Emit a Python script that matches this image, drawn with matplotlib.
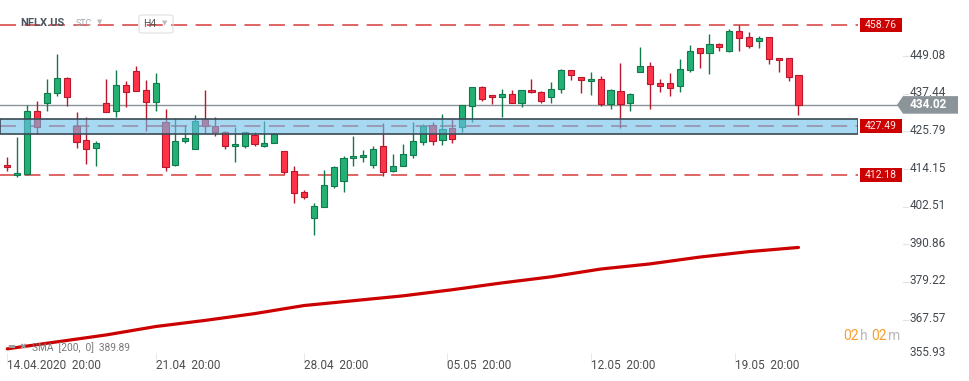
import matplotlib
matplotlib.use('Agg')
import matplotlib.pyplot as plt
import matplotlib.transforms as mtransforms
from matplotlib.patches import Rectangle, Polygon, FancyBboxPatch

plt.rcParams['font.family'] = ['Roboto', 'DejaVu Sans']

# ---------------- data ----------------
opens = [415.39, 412.31, 412.49, 432.05, 434.51, 437.60, 442.23, 427.51, 423.10, 420.63,
         434.51, 432.05, 440.07, 444.39, 438.52, 434.82, 428.65, 415.39, 422.79, 420.33,
         429.76, 427.61, 425.57, 421.25, 421.44, 424.64, 421.44, 422.18, 419.71, 413.63,
         407.06, 399.04, 402.43, 408.79, 410.45, 417.55, 417.86, 415.27, 421.25, 413.54,
         415.08, 418.47, 422.48, 427.73, 423.10, 426.80, 427.11, 433.59, 439.45, 436.98,
         436.37, 437.29, 434.51, 438.52, 437.91, 436.37, 438.83, 444.69, 442.54, 441.30,
         441.92, 434.21, 438.22, 434.51, 444.08, 445.93, 440.68, 440.68, 439.76, 444.69,
         451.79, 449.94, 453.02, 450.56, 457.03, 455.18, 453.95, 455.18, 448.40, 448.40,
         443.15]
highs = [417.86, 424.03, 433.99, 435.13, 441.92, 449.72, 442.63, 431.83, 430.20, 422.79,
         441.92, 444.79, 441.30, 446.02, 441.70, 443.86, 432.66, 429.89, 427.73, 430.81,
         438.62, 430.20, 425.97, 427.20, 425.75, 425.57, 428.96, 425.35, 419.71, 415.17,
         407.68, 403.76, 413.94, 415.17, 418.26, 424.43, 420.11, 421.34, 428.35, 418.88,
         421.96, 428.75, 428.13, 428.65, 431.21, 429.58, 433.90, 439.45, 439.76, 436.98,
         438.83, 438.52, 438.52, 441.92, 438.22, 440.99, 445.00, 444.69, 442.54, 444.08,
         442.84, 438.83, 446.85, 437.60, 452.10, 447.16, 441.92, 443.77, 448.09, 452.71,
         451.79, 456.11, 453.33, 457.65, 458.76, 456.72, 455.49, 455.18, 448.40, 448.40,
         443.15]
lows = [413.42, 411.69, 412.24, 425.05, 432.05, 436.86, 433.77, 420.82, 415.57, 414.96,
        431.74, 430.38, 433.47, 438.22, 426.06, 432.23, 413.42, 414.96, 422.36, 420.33,
        425.45, 424.52, 420.42, 416.19, 420.82, 421.44, 421.03, 422.18, 412.49, 403.54,
        404.99, 393.89, 402.43, 408.17, 406.94, 414.96, 416.19, 414.34, 411.87, 413.32,
        415.08, 417.73, 421.56, 421.74, 421.74, 422.36, 425.75, 428.84, 435.32, 434.39,
        430.38, 434.51, 433.47, 437.60, 434.51, 434.70, 437.78, 441.79, 437.78, 437.17,
        433.77, 432.85, 426.99, 432.23, 444.08, 432.85, 438.09, 436.86, 437.91, 444.26,
        445.31, 443.46, 450.86, 450.25, 450.86, 451.79, 451.79, 446.55, 444.08, 441.30,
        431.00]
closes = [414.77, 412.92, 432.05, 427.11, 437.60, 442.23, 436.37, 422.48, 420.33, 422.18,
          431.74, 440.07, 437.91, 438.22, 434.82, 440.68, 414.77, 422.79, 423.72, 428.96,
          427.42, 425.75, 421.44, 421.87, 425.57, 421.87, 422.18, 424.95, 413.23, 406.75,
          405.52, 402.74, 409.22, 414.77, 417.55, 418.17, 418.47, 420.33, 413.23, 415.08,
          418.78, 422.79, 427.42, 422.79, 426.50, 423.41, 433.90, 439.45, 435.93, 436.37,
          437.29, 434.51, 438.52, 437.91, 435.13, 438.83, 444.69, 443.15, 441.61, 441.92,
          434.21, 438.52, 434.21, 437.29, 445.93, 440.38, 439.76, 439.14, 445.00, 450.56,
          449.94, 453.02, 452.10, 457.03, 454.87, 452.41, 454.87, 448.09, 447.78, 442.54,
          434.02]

sma_idx = [0, 10, 15, 20, 25, 30, 35, 40, 45, 50, 55, 60, 65, 70, 75, 80]
sma_val = [358.5, 362.8, 365.4, 367.3, 369.4, 371.9, 373.4, 374.9, 376.8, 378.9,
           380.8, 383.2, 384.8, 386.9, 388.6, 389.89]

level_lines = [458.76, 412.18]
zone_level = 427.49
zone_low, zone_high = 425.0, 429.6
current_price = 434.02

ytick_vals = [449.08, 437.44, 425.79, 414.15, 402.51, 390.86, 379.22, 367.57, 355.93]
xtick_pos = [0, 15, 30, 44.5, 59, 73.6]
xtick_labels = ['14.04.2020  20:00', '21.04  20:00', '28.04  20:00',
                '05.05  20:00', '12.05  20:00', '19.05  20:00']

# ---------------- figure ----------------
W, H = 970, 381
fig = plt.figure(figsize=(W / 100, H / 100), dpi=100)
fig.patch.set_facecolor('white')
AX_R = 858
AX_B = 358
ax = fig.add_axes([0, (H - AX_B) / H, AX_R / W, AX_B / H])
ax.set_facecolor('white')
for s in ax.spines.values():
    s.set_visible(False)
ax.set_xlim(-0.738, 86.02)
ax.set_ylim(355.66, 466.50)

blend = mtransforms.blended_transform_factory(ax.transAxes, ax.transData)
def ax_x(px):
    return px / AX_R

G_FILL, G_EDGE = '#24b074', '#117a4c'
R_FILL, R_EDGE = '#ff3347', '#b8172c'

# level lines (dashed red)
for v in level_lines + [zone_level]:
    ln, = ax.plot([0, 1], [v, v], transform=blend, color='#d63a3a', lw=1.1, zorder=1)
    ln.set_dashes((10.5, 5.5))

# current price line
ax.plot([0, ax_x(898)], [current_price, current_price], transform=blend,
        color='#8a9399', lw=1.0, zorder=1, clip_on=False)

# SMA
ax.plot(sma_idx, sma_val, color='#cc0000', lw=2.3, zorder=2, solid_capstyle='round')

# candles
xs = list(range(len(opens)))
for i in xs:
    o, h, l, c = opens[i], highs[i], lows[i], closes[i]
    up = c >= o
    fill = G_FILL if up else R_FILL
    edge = G_EDGE if up else R_EDGE
    ax.vlines(i, l, h, color=edge, lw=1.0, zorder=3)
    ax.bar(i, max(abs(c - o), 0.25), bottom=min(o, c), width=0.62, color=fill,
           edgecolor=edge, linewidth=0.8, zorder=4)

# zone band (on top, translucent)
ax.add_patch(Rectangle((0, zone_low), 1, zone_high - zone_low, transform=blend,
                       facecolor='#6cc0ec', alpha=0.6, edgecolor='none', zorder=5))
ax.add_patch(Rectangle((0, zone_low), 1, zone_high - zone_low, transform=blend,
                       facecolor='none', edgecolor='#3c4a55', lw=1.2, zorder=6))

# red level boxes
for v in level_lines + [zone_level]:
    ax.add_patch(Rectangle((ax_x(860), v - 2.17), ax_x(42), 4.34, transform=blend,
                           facecolor='#cc0000', edgecolor='none', zorder=7, clip_on=False))
    ax.text(ax_x(881), v, f'{v:.2f}', transform=blend, ha='center', va='center',
            color='#ffe8e8', fontsize=7.5, zorder=8, clip_on=False)

# current price tag
ph = 2.72
ax.add_patch(Polygon([(ax_x(897), current_price), (ax_x(903), current_price + ph),
                      (ax_x(958), current_price + ph), (ax_x(958), current_price - ph),
                      (ax_x(903), current_price - ph)], closed=True, transform=blend,
                     facecolor='#8a9499', edgecolor='none', zorder=7, clip_on=False))
ax.text(ax_x(928), current_price, f'{current_price:.2f}', transform=blend, ha='center',
        va='center', color='white', fontsize=8.5, fontweight='bold', zorder=8, clip_on=False)

# y tick labels (right side)
ax.set_yticks([])
for v in ytick_vals:
    dy = 5 if v < 357 else 1
    ax.annotate(f'{v:.2f}', xy=(ax_x(910), v), xycoords=blend, xytext=(0, dy),
                textcoords='offset pixels', ha='left', va='center', color='#444a50',
                fontsize=8.5, annotation_clip=False)
    if v > 357:
        ax.plot([ax_x(903), ax_x(908)], [v, v], transform=blend, color='#e2e2e2',
                lw=0.8, clip_on=False)

# x ticks
ax.set_xticks(xtick_pos)
ax.set_xticklabels(xtick_labels)
ax.tick_params(axis='x', direction='inout', length=7, width=0.6, color='#e4e4e4',
               pad=-3, labelsize=8.5, labelcolor='#4d4d4d')
for lab in ax.get_xticklabels():
    lab.set_ha('left')

# header
def fx(px):
    return px / W
def fy(py):
    return 1 - py / H
fig.text(fx(20), fy(23), 'NFLX.US', fontsize=8, fontweight='bold', color='#4b5560',
         va='center', ha='left')
fig.text(fx(76), fy(24), 'STC', fontsize=6.5, color='#a2a8ae', va='center', ha='left')
fig.text(fx(97), fy(22), '\u25BC', fontsize=5, color='#bdbdbd', va='center', ha='left',
         family=['DejaVu Sans'])
fig.patches.append(FancyBboxPatch((fx(139), fy(33)), fx(34), 18 / H,
                                  boxstyle='round,pad=0,rounding_size=0.004',
                                  transform=fig.transFigure, facecolor='none',
                                  edgecolor='#e0e0e0', lw=0.8))
fig.text(fx(143), fy(24), 'H4', fontsize=7.5, color='#555555', va='center', ha='left')
fig.text(fx(162), fy(23), '\u25BC', fontsize=5, color='#bdbdbd', va='center', ha='left',
         family=['DejaVu Sans'])

# SMA legend
fig.text(fx(7), fy(347), '\u25AC', fontsize=6, color='#9a9a9a', va='center', ha='left',
         family=['DejaVu Sans'])
fig.text(fx(19), fy(347), '\u2716', fontsize=6, color='#9a9a9a', va='center', ha='left',
         family=['DejaVu Sans'])
fig.text(fx(32), fy(348), 'SMA  [200,  0]  389.89', fontsize=7.3, color='#777777',
         va='center', ha='left')

# countdown
fig.text(fx(843), fy(336), '02', fontsize=10, color='#f5a030', va='center', ha='left')
fig.text(fx(860), fy(336), 'h', fontsize=10, color='#b8b8b8', va='center', ha='left')
fig.text(fx(871), fy(336), '02', fontsize=10, color='#f5a030', va='center', ha='left')
fig.text(fx(888), fy(336), 'm', fontsize=10, color='#b8b8b8', va='center', ha='left')

fig.savefig('out.png', dpi=100, facecolor='white')
